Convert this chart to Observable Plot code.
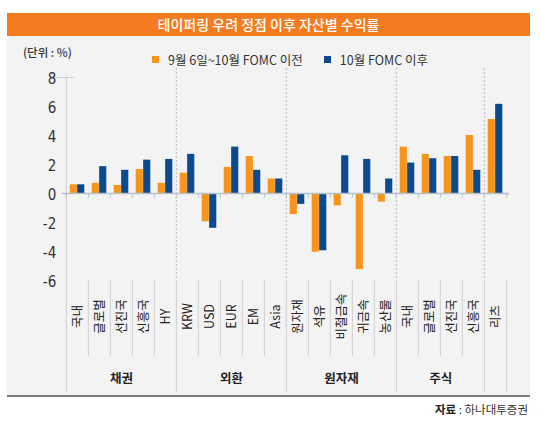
<!DOCTYPE html>
<html>
<head>
<meta charset="utf-8">
<script src="https://cdn.jsdelivr.net/npm/d3@7"></script>
<script src="https://cdn.jsdelivr.net/npm/@observablehq/plot@0.6"></script>
<style>
  body { margin: 0; background: #fff; font-family: "Noto Sans CJK KR", "Noto Sans", sans-serif; }
  #wrap { position: relative; width: 540px; height: 427px; overflow: hidden; background: #fff; }
  #title { position: absolute; left: 7px; top: 13px; width: 523px; height: 23px; background: #f47b20;
           color: #fff; font-size: 14px; line-height: 23px; text-align: center; font-weight: 500; }
  #panel { position: absolute; left: 7px; top: 36px; width: 523px; height: 359px; background: #f3f3f3;
           border-bottom: 2px solid #7c7c7c; }
  #unit { position: absolute; left: 23px; top: 44px; font-size: 11.5px; color: #333; font-weight: 500; }
  #legend { position: absolute; left: 152px; top: 50px; font-size: 12.5px; color: #333; display: flex; align-items: center; }
  .sw { display: inline-block; width: 7px; height: 7px; margin-right: 9px; }
  .item { display: flex; align-items: center; margin-right: 21px; }
  #chart { position: absolute; left: 0; top: 36px; }
  #source { position: absolute; right: 12px; top: 401px; font-size: 11.5px; color: #333; }
  #source b { font-weight: 700; color: #222; }
</style>
</head>
<body>
<div id="wrap">
  <div id="title">테이퍼링 우려 정점 이후 자산별 수익률</div>
  <div id="panel"></div>
  <div id="unit">(단위 : %)</div>
  <div id="legend"></div>
  <div id="chart"></div>
  <div id="source"><b>자료</b> : 하나대투증권</div>
</div>
<script>
// ---- data ----
const categories = ["국내","글로벌","선진국","신흥국","HY","KRW","USD","EUR","EM","Asia","원자재","석유","비철금속","귀금속","농산물","국내","글로벌","선진국","신흥국","리츠"];
const groupOf = ["채권","채권","채권","채권","채권","외환","외환","외환","외환","외환","원자재","원자재","원자재","원자재","원자재","주식","주식","주식","주식",""];
const beforeFOMC = [0.6,0.7,0.55,1.65,0.7,1.4,-1.95,1.8,2.55,1.0,-1.45,-4.05,-0.85,-5.25,-0.6,3.2,2.7,2.55,4.0,5.1];
const afterFOMC  = [0.6,1.85,1.6,2.3,2.35,2.7,-2.4,3.2,1.6,1.0,-0.75,-3.95,2.6,2.35,1.0,2.1,2.4,2.55,1.6,6.15];
const seriesNames = ["9월 6일~10월 FOMC 이전", "10월 FOMC 이후"];
const seriesColors = ["#f7941d", "#0b4a8c"];
const yTicks = [8,6,4,2,0,-2,-4,-6];
const yDomain = [-6, 8];

// ---- legend ----
const legend = document.getElementById("legend");
seriesNames.forEach((n, k) => {
  const it = document.createElement("div");
  it.className = "item";
  it.innerHTML = `<span class="sw" style="background:${seriesColors[k]}"></span><span>${n}</span>`;
  legend.appendChild(it);
});

// ---- layout ----
const W = 540, H = 361, mL = 62, mR = 31, mT = 41, mB = 117;
const n = categories.length;
const bw = (W - mL - mR) / n;
const pxPerUnit = (H - mT - mB) / (yDomain[1] - yDomain[0]);
const yBelow = px => yDomain[0] - px / pxPerUnit;   // value at px below the plot bottom
const yAbove = px => yDomain[1] + px / pxPerUnit;

const idx = d3.range(n);
const rows = idx.map(i => ({i, label: categories[i], group: groupOf[i], before: beforeFOMC[i], after: afterFOMC[i]}));

// group boundaries
const groupStarts = idx.filter(i => i === 0 || groupOf[i] !== groupOf[i - 1]);
const innerBounds = groupStarts.filter(i => i > 0);
const catBounds = idx.filter(i => i > 0 && !groupStarts.includes(i));
const groups = [];
groupStarts.forEach((s, k) => {
  const e = (k + 1 < groupStarts.length ? groupStarts[k + 1] : n) - 1;
  if (groupOf[s]) groups.push({name: groupOf[s], x: Math.floor((s + e) / 2), even: (s + e) % 2 === 1});
});

const barW = 7.5, pad = 3.7;
const sepColor = "#cfcfcf";

const chart = Plot.plot({
  width: W, height: H,
  marginLeft: mL, marginRight: mR, marginTop: mT, marginBottom: mB,
  style: {background: "transparent", fontFamily: "'Noto Sans CJK KR', sans-serif"},
  x: {type: "band", domain: idx, padding: 0, axis: null},
  y: {domain: yDomain, axis: null},
  marks: [
    // dashed group separators in plot area
    Plot.ruleX(innerBounds, {x: d => d, dx: -bw / 2, y1: yAbove(9), y2: yDomain[0], stroke: "#b8b8b8", strokeDasharray: "2,2"}),
    // group separators in label area
    Plot.ruleX(groupStarts, {x: d => d, dx: -bw / 2, y1: yDomain[0], y2: yBelow(112), stroke: sepColor}),
    Plot.ruleX([n - 1], {x: d => d, dx: bw / 2, y1: yDomain[0], y2: yBelow(112), stroke: sepColor}),
    // category separators in label area
    Plot.ruleX(catBounds, {x: d => d, dx: -bw / 2, y1: yDomain[0], y2: yBelow(76), stroke: sepColor}),
    // y axis line
    Plot.ruleX([0], {x: d => d, dx: -bw / 2, y1: yDomain[1], y2: yDomain[0], stroke: sepColor}),
    Plot.ruleY([yDomain[1]], {x1: 0, x2: 0, dx: -bw / 2 - 3, stroke: sepColor}),
    // bars
    Plot.barY(rows, {x: "i", y: "before", fill: seriesColors[0], insetLeft: pad, insetRight: bw - pad - barW}),
    Plot.barY(rows, {x: "i", y: "after", fill: seriesColors[1], insetLeft: bw - pad - barW, insetRight: pad}),
    // zero line and ticks
    Plot.ruleY([0], {stroke: "#b4c3ca", strokeWidth: 1.5}),
    Plot.ruleX(idx, {x: d => d, dx: -bw / 2, y1: 0, y2: -0.35, stroke: "#b4c3ca"}),
    Plot.ruleX([n - 1], {x: d => d, dx: bw / 2, y1: 0, y2: -0.35, stroke: "#b4c3ca"}),
    // y tick labels
    Plot.text(yTicks, {x: 0, y: d => d, text: d => String(d), dx: -bw / 2 - 10, dy: 1.5, textAnchor: "end",
      fontSize: 15, fill: "#333", fontFamily: "'Liberation Sans Narrow', 'DejaVu Sans Condensed', sans-serif"}),
    // category labels (rotated)
    Plot.text(rows, {x: "i", y: yDomain[0], dy: 36, text: "label", rotate: -90, textAnchor: "middle",
      fontSize: 12.5, fill: "#222"}),
    // group labels (odd-sized groups centred on middle band, even-sized shifted half a band)
    Plot.text(groups.filter(g => !g.even), {x: "x", y: yDomain[0], dy: 98, text: "name", fontSize: 12.5, fontWeight: 600, fill: "#222"}),
    Plot.text(groups.filter(g => g.even), {x: "x", y: yDomain[0], dy: 98, dx: bw / 2, text: "name", fontSize: 12.5, fontWeight: 600, fill: "#222"}),
  ]
});
document.getElementById("chart").appendChild(chart);
</script>
</body>
</html>
